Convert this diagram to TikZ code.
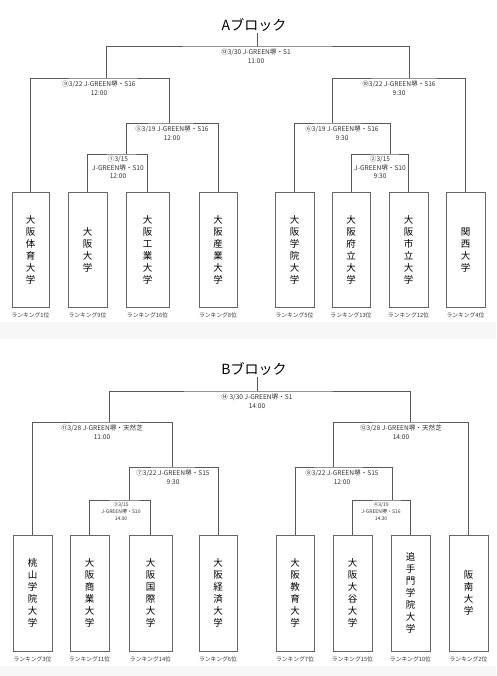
\documentclass[tikz,border=0pt]{standalone}
\usepackage{fontspec}
\setmainfont{Noto Sans CJK JP}
\usetikzlibrary{positioning}

\tikzset{
  team/.style={draw=black!60, line width=0.6pt, minimum width=38pt, minimum height=115pt,
    inner sep=0pt, align=center, font=\fontsize{9.5}{12}\selectfont},
  rank/.style={font=\fontsize{5.8}{6}\selectfont, inner sep=0pt, text=black!80},
  match/.style={font=\fontsize{6.6}{8.5}\selectfont, align=center, inner sep=1pt, anchor=north, text=black!80},
  matchsmall/.style={match, font=\fontsize{5}{6.8}\selectfont},
  bracket/.style={draw=black!65, line width=0.6pt},
  blocktitle/.style={font=\fontsize{14}{16}\selectfont, inner sep=1pt}
}

\begin{document}
\begin{tikzpicture}[x=1pt, y=-1pt]
  \useasboundingbox (0,0) rectangle (496,676);
  \fill[black!3] (0,322) rectangle (496,339);
  \fill[black!3] (0,666) rectangle (496,676);

  % A block
  \node[blocktitle] (titleA) at (254,25) {Aブロック};
  \foreach \n/\x/\w/\name/\rk in {
      a1/30.5/37/{大\\阪\\体\\育\\大\\学}/1,
      a2/87.5/39/{大\\阪\\大\\学}/9,
      a3/147.5/43/{大\\阪\\工\\業\\大\\学}/16,
      a4/218/38/{大\\阪\\産\\業\\大\\学}/8,
      a5/294.5/39/{大\\阪\\学\\院\\大\\学}/5,
      a6/351/38/{大\\阪\\府\\立\\大\\学}/13,
      a7/408.5/39/{大\\阪\\市\\立\\大\\学}/12,
      a8/465.5/39/{関\\西\\大\\学}/4} {
    \node[team, minimum width=\w pt] (\n) at (\x,250) {\name};
    \node[rank, below=5pt of \n] (r\n) {ランキング\rk 位};
  }

  \coordinate (jA1) at (126,154);
  \coordinate (jA2) at (390,154);
  \coordinate (jA5) at (169,123);
  \coordinate (jA6) at (332,123);
  \coordinate (jA9) at (106,78);
  \coordinate (jA10) at (409,78);
  \coordinate (jA13) at (257,46);

  \draw[bracket] (a2.north) |- (jA1) -| (a3.north);
  \draw[bracket] (jA1) |- (jA5) -| (a4.north);
  \draw[bracket] (a1.north) |- (jA9) -| (jA5);
  \draw[bracket] (a6.north) |- (jA2) -| (a7.north);
  \draw[bracket] (a5.north) |- (jA6) -| (jA2);
  \draw[bracket] (jA6) |- (jA10) -| (a8.north);
  \draw[bracket] (jA9) |- (jA13) -| (jA10);
  \draw[bracket] (jA13) -- (jA13 |- titleA.south);

  \node[match] (lA13) at (256,48) {⑬3/30 J-GREEN堺・S1\\11:00};
  \node[match] (lA9) at (99,80) {⑨3/22 J-GREEN堺・S16\\12:00};
  \node[match] (lA10) at (399,80) {⑩3/22 J-GREEN堺・S16\\9:30};
  \node[match] (lA5) at (172,125) {⑤3/19 J-GREEN堺・S16\\12:00};
  \node[match] (lA6) at (342,125) {⑥3/19 J-GREEN堺・S16\\9:30};
  \node[match] (lA1) at (118,155) {①3/15\\J-GREEN堺・S10\\12:00};
  \node[match] (lA2) at (380,155) {②3/15\\J-GREEN堺・S10\\9:30};

  % B block
  \node[blocktitle] (titleB) at (254,369) {Bブロック};
  \foreach \n/\x/\w/\name/\rk in {
      b1/32.5/39/{桃\\山\\学\\院\\大\\学}/3,
      b2/89.5/39/{大\\阪\\商\\業\\大\\学}/11,
      b3/150.5/43/{大\\阪\\国\\際\\大\\学}/14,
      b4/218/38/{大\\阪\\経\\済\\大\\学}/6,
      b5/295/38/{大\\阪\\教\\育\\大\\学}/7,
      b6/352.5/39/{大\\阪\\大\\谷\\大\\学}/15,
      b7/410.5/39/{追\\手\\門\\学\\院\\大\\学}/10,
      b8/468.5/39/{阪\\南\\大\\学}/2} {
    \node[team, minimum height=116pt, minimum width=\w pt] (\n) at (\x,593) {\name};
    \node[rank, below=5pt of \n] (r\n) {ランキング\rk 位};
  }

  \coordinate (jB3) at (129,500);
  \coordinate (jB4) at (392,500);
  \coordinate (jB7) at (172,467);
  \coordinate (jB8) at (333,467);
  \coordinate (jB11) at (109,422);
  \coordinate (jB12) at (410,422);
  \coordinate (jB14) at (257,391);

  \draw[bracket] (b2.north) |- (jB3) -| (b3.north);
  \draw[bracket] (jB3) |- (jB7) -| (b4.north);
  \draw[bracket] (b1.north) |- (jB11) -| (jB7);
  \draw[bracket] (b6.north) |- (jB4) -| (b7.north);
  \draw[bracket] (b5.north) |- (jB8) -| (jB4);
  \draw[bracket] (jB8) |- (jB12) -| (b8.north);
  \draw[bracket] (jB11) |- (jB14) -| (jB12);
  \draw[bracket] (jB14) -- (jB14 |- titleB.south);

  \node[match] (lB14) at (257,393) {⑭ 3/30 J-GREEN堺・S1\\14:00};
  \node[match] (lB11) at (102,424) {⑪3/28 J-GREEN堺・天然芝\\11:00};
  \node[match] (lB12) at (401,424) {⑫3/28 J-GREEN堺・天然芝\\14:00};
  \node[match] (lB7) at (173,469) {⑦3/22 J-GREEN堺・S15\\9:30};
  \node[match] (lB8) at (342,469) {⑧3/22 J-GREEN堺・S15\\12:00};
  \node[matchsmall] (lB3) at (121,501) {③3/15\\J-GREEN堺・S10\\14:30};
  \node[matchsmall] (lB4) at (381,501) {④3/19\\J-GREEN堺・S16\\14:30};
\end{tikzpicture}
\end{document}
